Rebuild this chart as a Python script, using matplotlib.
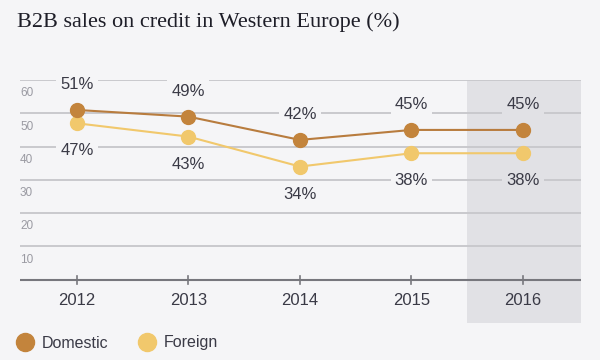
import numpy as np
import matplotlib.pyplot as plt
from matplotlib.lines import Line2D

# data
anos = ['2012', '2013', '2014', '2015', '2016']
domestico = [51, 49, 42, 45, 45]
estrangeiro = [47, 43, 34, 38, 38]
yticks = [10, 20, 30, 40, 50, 60]

cor_fundo = '#f5f5f7'
cor_faixa = '#e1e1e5'
cor_dom = '#c3843c'
cor_est = '#f1c86c'
cor_texto = '#3a3a46'

plt.rcParams['font.family'] = ['Liberation Sans Narrow', 'Liberation Sans', 'DejaVu Sans']

fig = plt.figure(figsize=(6, 3.6), dpi=100, facecolor=cor_fundo)
ax = fig.add_axes([20 / 600, 1 - 323 / 360, 561 / 600, 243 / 360])
ax.set_facecolor(cor_fundo)
ax.set_xlim(-0.51, 4.52)
ax.set_ylim(-13, 60)
for s in ax.spines.values():
    s.set_visible(False)
ax.set_xticks([])
ax.set_yticks([])

x = np.arange(len(anos))

# faixa de 2016 (estimativa)
ax.axvspan(3.5, 4.52, color=cor_faixa, zorder=0, lw=0)

# grade
for v in yticks:
    ax.axhline(v, color='#c9c9cd', lw=1.4, zorder=1)
    ax.text(0.0, v - 4, str(v), transform=ax.get_yaxis_transform(), ha='left', va='center',
            fontsize=8.5, color='#9a9aa2', zorder=2)

# eixo x
ax.axhline(0, color='#77777d', lw=1.5, zorder=2)
for xi, a in zip(x, anos):
    ax.plot([xi, xi], [-1.2, 1.2], color='#77777d', lw=1.2, zorder=2)
    ax.text(xi, -6.3, a, ha='center', va='center', fontsize=12, color=cor_texto)

# linhas
ax.plot(x, domestico, color='#b87c3e', lw=1.5, marker='o', ms=10,
        mfc=cor_dom, mec=cor_dom, zorder=4)
ax.plot(x, estrangeiro, color=cor_est, lw=1.5, marker='o', ms=10,
        mfc=cor_est, mec=cor_est, zorder=3)

for xi, v in zip(x, domestico):
    fc = cor_faixa if xi == 4 else cor_fundo
    ax.text(xi, v + 7.6, f'{v}%', ha='center', va='center', fontsize=12, color=cor_texto, zorder=5,
            bbox=dict(boxstyle='square,pad=0.25', fc=fc, ec='none'))
for xi, v in zip(x, estrangeiro):
    fc = cor_faixa if xi == 4 else cor_fundo
    ax.text(xi, v - 8.3, f'{v}%', ha='center', va='center', fontsize=12, color=cor_texto, zorder=5,
            bbox=dict(boxstyle='square,pad=0.25', fc=fc, ec='none'))

# titulo
fig.text(17 / 600, 1 - 22 / 360, 'B2B sales on credit in Western Europe (%)', ha='left', va='center',
         fontsize=16, color='#1e1e28', family=['Liberation Serif', 'DejaVu Serif'])

# legenda
handles = [Line2D([], [], ls='none', marker='o', ms=13, mfc=cor_dom, mec=cor_dom),
           Line2D([], [], ls='none', marker='o', ms=13, mfc=cor_est, mec=cor_est)]
fig.legend(handles, ['Domestic', 'Foreign'], loc='center left', bbox_to_anchor=(0.028, 1 - 343 / 360),
           ncol=2, frameon=False, fontsize=11.5, handlelength=1, handletextpad=0.55, columnspacing=1.9,
           labelcolor=cor_texto, borderaxespad=0, borderpad=0)

fig.savefig('out.png', dpi=100, facecolor=cor_fundo)
